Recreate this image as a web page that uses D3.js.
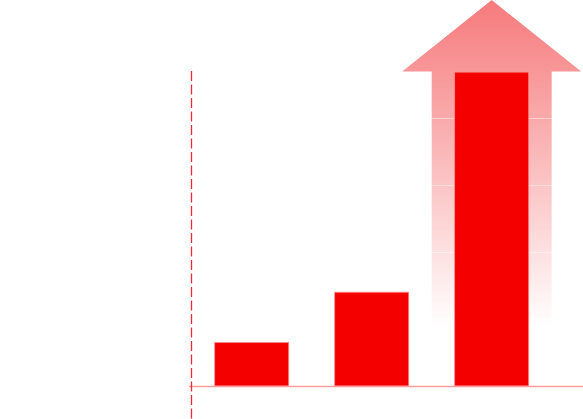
<!DOCTYPE html>
<html>
<head>
<meta charset="utf-8">
<script src="https://cdn.jsdelivr.net/npm/d3@7"></script>
<style>
body{margin:0;background:#fff;}
svg{display:block;}
</style>
</head>
<body>
<svg class="graph"></svg>
<script>
var width = 583, height = 419;

// chart data
var categories = ["A", "B", "C"];
var values = [13, 28, 93.7];
var gridTicks = [20, 40, 60, 80];

var svg = d3.select(".graph").attr("width", width).attr("height", height);

var xScale = d3.scaleBand().domain(categories).range([191, 552.4])
	.paddingInner(0.383).paddingOuter(0.1975);
var yScale = d3.scaleLinear().domain([0, 20]).range([386, 319]);

var defs = svg.append("defs");
var grad = defs.append("linearGradient")
	.attr("id", "arrowGrad")
	.attr("gradientUnits", "userSpaceOnUse")
	.attr("x1", 0).attr("x2", 0).attr("y1", 0).attr("y2", 328);
grad.append("stop").attr("offset", "0%").attr("stop-color", "#f67a7c").attr("stop-opacity", 1);
grad.append("stop").attr("offset", "100%").attr("stop-color", "#f67a7c").attr("stop-opacity", 0);

// arrow behind the tallest bar
var last = categories[categories.length - 1];
var gap = xScale.step() - xScale.bandwidth();
var cx = xScale(last) + xScale.bandwidth() / 2;
var shaftL = xScale(last) - gap / 2, shaftR = xScale(last) + xScale.bandwidth() + gap / 2;
var headW = 89.5;
var headBase = yScale(values[values.length - 1]) - 0.5;
var shaftBottom = 326;
var arrowPts = [
	[cx, 0], [cx + headW, headBase], [shaftR, headBase], [shaftR, shaftBottom],
	[shaftL, shaftBottom], [shaftL, headBase], [cx - headW, headBase]
];
svg.append("path")
	.attr("d", d3.line()(arrowPts) + "Z")
	.style("fill", "url(#arrowGrad)");

// faint gridlines
svg.append("g").selectAll("line").data(gridTicks).enter().append("line")
	.attr("x1", 191).attr("x2", width)
	.attr("y1", function(d){return Math.round(yScale(d)) + 0.5})
	.attr("y2", function(d){return Math.round(yScale(d)) + 0.5})
	.style("stroke", "#ffffff").style("stroke-opacity", 0.4).style("stroke-width", 1);

// bars
svg.append("g").selectAll("rect").data(values).enter().append("rect")
	.attr("x", function(d, i){return xScale(categories[i])})
	.attr("y", function(d){return yScale(d)})
	.attr("width", xScale.bandwidth())
	.attr("height", function(d){return yScale(0) - yScale(d)})
	.style("fill", "#f40000")
	.style("stroke", "#fb8d8d").style("stroke-width", 0.8);

// baseline
svg.append("line")
	.attr("x1", 189).attr("x2", width)
	.attr("y1", yScale(0) + 0.5).attr("y2", yScale(0) + 0.5)
	.style("stroke", "#fb9c9c").style("stroke-width", 1.5);

// dashed divider
svg.append("line")
	.attr("x1", 191.5).attr("x2", 191.5)
	.attr("y1", 71).attr("y2", height)
	.style("stroke", "#ec2a3a").style("stroke-width", 1.3)
	.style("stroke-dasharray", "10,3.5");
</script>
</body>
</html>
